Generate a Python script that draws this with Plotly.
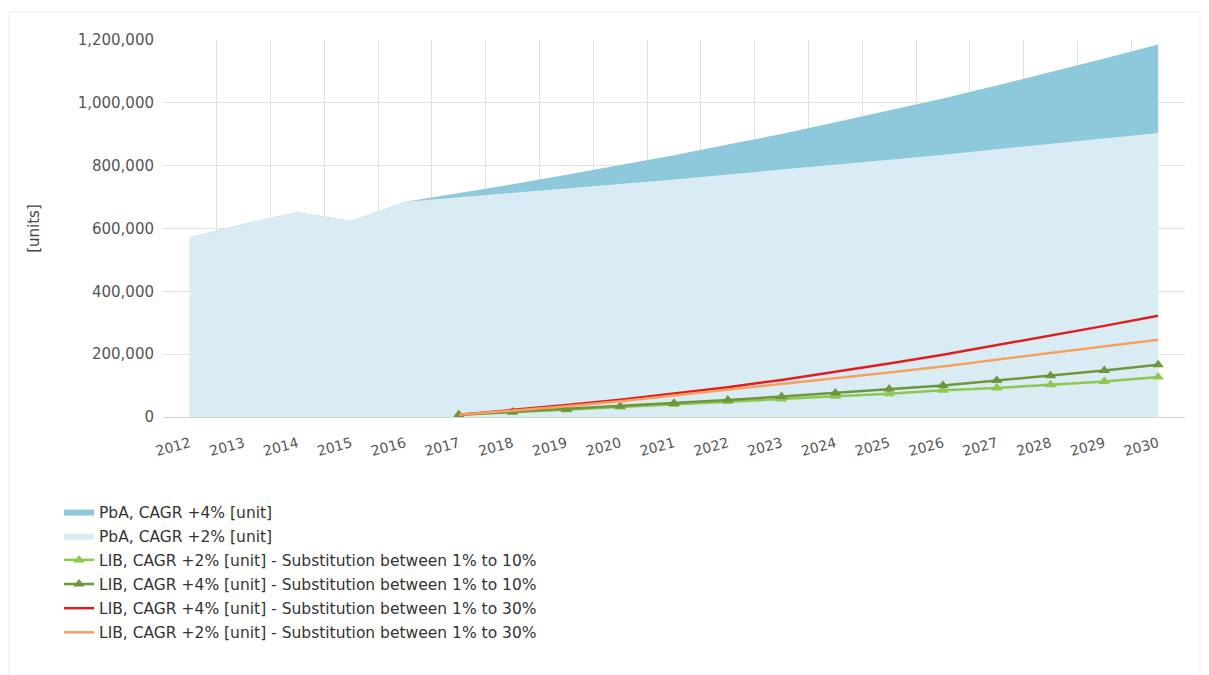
import plotly.graph_objects as go

years = list(range(2012, 2031))
lib_years = list(range(2017, 2031))

pba_4 = [572000, 615000, 652000, 624000, 685000, 712000, 741000, 771000, 801000,
         833000, 867000, 901000, 938000, 975000, 1014000, 1055000, 1097000, 1141000, 1186000]
pba_2 = [572000, 615000, 652000, 624000, 685000, 699000, 713000, 727000, 742000,
         756000, 772000, 787000, 803000, 819000, 835000, 852000, 869000, 886000, 904000]

lib_2_10 = [7000, 15000, 23000, 32000, 40000, 49000, 57000, 66000, 74000, 85000, 92000, 103000, 113000, 127000]
lib_4_10 = [7000, 16000, 25000, 34000, 44000, 54000, 65000, 76000, 89000, 100000, 116000, 131000, 148000, 166000]
lib_4_30 = [7000, 22000, 38000, 55000, 74000, 95000, 118000, 143000, 170000, 198000, 228000, 259000, 290000, 322000]
lib_2_30 = [7000, 20000, 34000, 50000, 68000, 86000, 104000, 124000, 142000, 161000, 182000, 204000, 225000, 246000]

names = [
    "PbA, CAGR +4% [unit]",
    "PbA, CAGR +2% [unit]",
    "LIB, CAGR +2% [unit] - Substitution between 1% to 10%",
    "LIB, CAGR +4% [unit] - Substitution between 1% to 10%",
    "LIB, CAGR +4% [unit] - Substitution between 1% to 30%",
    "LIB, CAGR +2% [unit] - Substitution between 1% to 30%",
]

fig = go.Figure()
fig.add_trace(go.Scatter(x=years, y=pba_4, name=names[0], mode="lines", fill="tozeroy",
                         fillcolor="rgb(142,200,219)", line=dict(width=0, color="rgb(142,200,219)"),
                         legendgroup="a"))
fig.add_trace(go.Scatter(x=years, y=pba_2, name=names[1], mode="lines", fill="tozeroy",
                         fillcolor="rgb(218,236,243)", line=dict(width=0, color="rgb(218,236,243)"),
                         legendgroup="b"))
fig.add_trace(go.Scatter(x=lib_years, y=lib_2_10, name=names[2], mode="lines+markers",
                         line=dict(width=2.5, color="rgb(140,200,80)"),
                         marker=dict(symbol="triangle-up", size=10, color="rgb(140,200,80)"),
                         legendgroup="c"))
fig.add_trace(go.Scatter(x=lib_years, y=lib_4_10, name=names[3], mode="lines+markers",
                         line=dict(width=2.5, color="rgb(110,150,60)"),
                         marker=dict(symbol="triangle-up", size=10, color="rgb(110,150,60)"),
                         legendgroup="d"))
fig.add_trace(go.Scatter(x=lib_years, y=lib_4_30, name=names[4], mode="lines",
                         line=dict(width=2.5, color="rgb(225,30,30)"), legendgroup="e"))
fig.add_trace(go.Scatter(x=lib_years, y=lib_2_30, name=names[5], mode="lines",
                         line=dict(width=2.5, color="rgb(245,160,95)"), legendgroup="f"))

grid = "rgb(225,225,225)"
# page body has an 8px offset; figure coordinates below are screen - 8
L, R, T, B = 155, 1177, 32, 409
W, H = 1209, 675
FONT = "DejaVu Sans"

fig.update_layout(
    width=W, height=H,
    margin=dict(l=L, r=W - R, t=T, b=H - B),
    paper_bgcolor="white", plot_bgcolor="white",
    font=dict(family=FONT, size=14, color="#444"),
    showlegend=True,
    legend=dict(x=(51 - L) / (R - L), xanchor="left", y=(B - 487) / (B - T), yanchor="top",
                font=dict(family=FONT, size=15.5, color="#333"), tracegroupgap=1,
                bgcolor="rgba(0,0,0,0)", itemwidth=30),
    xaxis=dict(range=[2011.5, 2030.5], tickmode="array", tickvals=years,
               ticktext=[str(y) for y in years], tickangle=-15, showgrid=False,
               zeroline=False, showline=False, ticks="", ticklabelstandoff=15,
               tickfont=dict(family=FONT, size=14, color="#555"),
               minor=dict(tickmode="linear", tick0=2011.5, dtick=1, showgrid=True,
                          gridcolor=grid, gridwidth=1, ticks="")),
    yaxis=dict(range=[0, 1200000], tickmode="linear", tick0=0, dtick=200000,
               tickformat=",d", showgrid=True, gridcolor=grid, gridwidth=1,
               zeroline=True, zerolinecolor="rgb(212,212,212)", zerolinewidth=1,
               showline=False, ticks="", ticklabelstandoff=8,
               tickfont=dict(family=FONT, size=15, color="#555"),
               title=dict(text="[units]", font=dict(family=FONT, size=15, color="#444"), standoff=34)),
    shapes=[dict(type="rect", xref="paper", yref="paper",
                 x0=(1 - L) / (R - L), x1=(1192 - L) / (R - L),
                 y0=(B - 700) / (B - T), y1=(B - 4) / (B - T),
                 line=dict(color="rgb(235,235,235)", width=1), fillcolor="rgba(0,0,0,0)",
                 layer="below")],
)

fig.write_html("out.html")
